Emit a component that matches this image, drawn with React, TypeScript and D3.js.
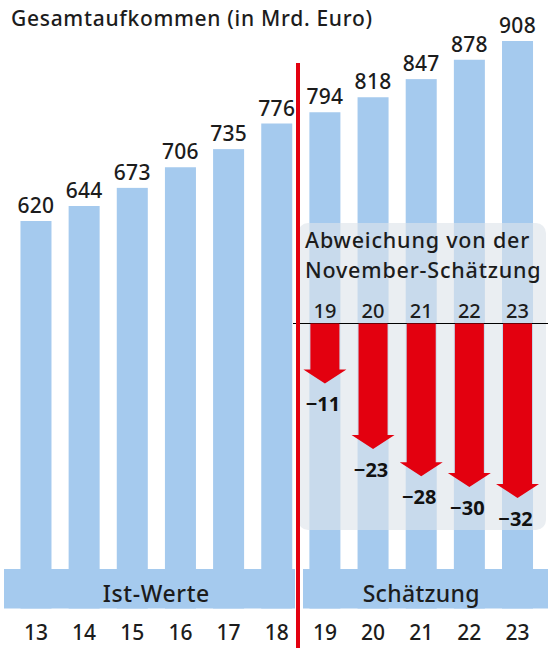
import * as d3 from 'd3'
import React from 'react'

const years = ['13', '14', '15', '16', '17', '18', '19', '20', '21', '22', '23']
const totals = [620, 644, 673, 706, 735, 776, 794, 818, 847, 878, 908]
const forecastYears = ['19', '20', '21', '22', '23']
const deviations = [-11, -23, -28, -30, -32]
const actualYears = ['13', '14', '15', '16', '17', '18']

const title = 'Gesamtaufkommen (in Mrd. Euro)'
const insetTitle = ['Abweichung von der', 'November-Schätzung']
const groupLabels = ['Ist-Werte', 'Schätzung']

const W = 548
const H = 648
const font = "'Noto Sans', sans-serif"
const blue = '#a5caee'
const red = '#e3000f'
const ink = '#1c1c1c'

const App = () => {
  const x = d3
    .scaleBand()
    .domain(years)
    .range([11.9, 541.6])
    .paddingInner(0.356)
    .paddingOuter(0.178)

  const y = d3.scaleLinear().domain([0, 908]).range([608.5, 41])

  // deviation arrows hang from the zero line of the inset
  const dy = d3.scaleLinear().domain([0, -32]).range([323.5, 498])

  const bw = x.bandwidth()
  const cx = (d: string) => (x(d) as number) + bw / 2

  const arrow = (d: string, v: number) => {
    const c = cx(d)
    const sw = (bw - 2) / 2
    const hw = 21.5
    const tip = dy(v)
    const neck = tip - 14
    const line = d3.line()
    return (
      line([
        [c - sw, dy(0)],
        [c + sw, dy(0)],
        [c + sw, neck],
        [c + hw, neck],
        [c, tip],
        [c - hw, neck],
        [c - sw, neck],
      ]) + 'Z'
    )
  }

  const splitX = 298
  const actualCenter = (cx(actualYears[0]) + cx(actualYears[actualYears.length - 1])) / 2
  const forecastCenter = (cx(forecastYears[0]) + cx(forecastYears[forecastYears.length - 1])) / 2

  return (
    <svg
      width={W}
      height={H}
      style={{ position: 'absolute', left: 0, top: 0, background: '#fff' }}
      fontFamily={font}
      fontWeight={500}
    >
      {/* bars */}
      {years.map((d, i) => (
        <rect key={d} x={x(d)} y={y(totals[i])} width={bw} height={y(0) - y(totals[i])} fill={blue} />
      ))}

      {/* group bands */}
      <rect x={4} y={569} width={splitX - 3 - 4} height={608.5 - 569} fill={blue} />
      <rect x={splitX + 5} y={569} width={W - splitX - 5} height={608.5 - 569} fill={blue} />
      <text x={actualCenter} y={602} textAnchor="middle" fontSize={23} letterSpacing={0.6} fill={ink}>
        {groupLabels[0]}
      </text>
      <text x={forecastCenter} y={602} textAnchor="middle" fontSize={23} letterSpacing={0.3} fill={ink}>
        {groupLabels[1]}
      </text>

      {/* x labels */}
      {years.map((d) => (
        <text key={d} x={cx(d)} y={640} textAnchor="middle" fontSize={21} fill={ink}>
          {d}
        </text>
      ))}

      {/* value labels */}
      {years.map((d, i) => (
        <text key={d} x={cx(d)} y={y(totals[i]) - 8} textAnchor="middle" fontSize={21} letterSpacing={0.3} fill={ink}>
          {totals[i]}
        </text>
      ))}

      {/* inset panel */}
      <rect x={splitX} y={223} width={W - splitX - 2} height={307} rx={10} fill="#dde3ea" opacity={0.62} />
      {insetTitle.map((t, i) => (
        <text key={t} x={305} y={248 + i * 30} fontSize={21.5} letterSpacing={0.8} fill={ink}>
          {t}
        </text>
      ))}
      {forecastYears.map((d) => (
        <text key={d} x={cx(d)} y={318} textAnchor="middle" fontSize={20} fill={ink}>
          {d}
        </text>
      ))}
      <line x1={293} x2={W} y1={dy(0)} y2={dy(0)} stroke="#000" strokeWidth={1} />

      {forecastYears.map((d, i) => (
        <path key={d} d={arrow(d, deviations[i])} fill={red} />
      ))}
      {forecastYears.map((d, i) => (
        <text
          key={d}
          x={cx(d) - 2}
          y={dy(deviations[i]) + 28}
          textAnchor="middle"
          fontSize={20}
          fontWeight="bold"
          fill="#111"
        >
          {'\u2212' + Math.abs(deviations[i])}
        </text>
      ))}

      {/* divider between actual and forecast */}
      <rect x={splitX - 2} y={63} width={4} height={H - 63} fill={red} />

      <text x={11} y={26} fontSize={21} letterSpacing={0.7} fill={ink}>
        {title}
      </text>
    </svg>
  )
}

export default App
